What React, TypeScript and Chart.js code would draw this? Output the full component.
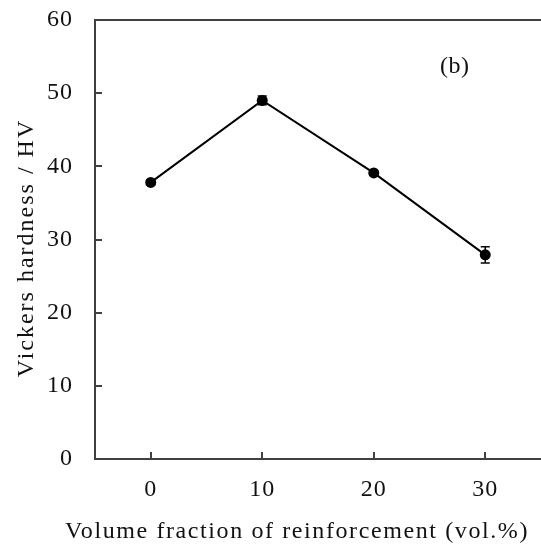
import React, { useEffect, useRef } from "react";
import { Chart, registerables } from "chart.js";

Chart.register(...registerables);

const categories = [0, 10, 20, 30];
const hardness = [37.8, 49.0, 39.1, 27.9];
const hardnessErr = [0.3, 0.6, 0.3, 1.1];
const xTickValues = [0, 10, 20, 30];
const yTickValues = [0, 10, 20, 30, 40, 50, 60];
const xTitle = "Volume fraction of reinforcement (vol.%)";
const yTitle = "Vickers hardness / HV";
const panelLabel = "(b)";

const AXIS = "#404040";
const TEXT = "#111";
const FONT = '"Liberation Serif", "Times New Roman", serif';

const zeroPad = (s: any) => {
  s.paddingTop = 0;
  s.paddingBottom = 0;
  s.paddingLeft = 0;
  s.paddingRight = 0;
};

export default function App() {
  const ref = useRef<HTMLCanvasElement | null>(null);

  useEffect(() => {
    document.body.style.margin = "0";
    const canvas = ref.current;
    if (!canvas) return;

    const decor = {
      id: "decor",
      beforeDraw(chart: any) {
        chart.ctx.letterSpacing = "1px";
      },
      afterDatasetsDraw(chart: any) {
        const ctx = chart.ctx;
        const xs = chart.scales.x;
        const ys = chart.scales.y;
        const area = chart.chartArea;
        ctx.save();
        ctx.strokeStyle = "#000";
        ctx.lineWidth = 1.5;
        categories.forEach((c, i) => {
          const px = xs.getPixelForValue(c);
          const yTop = ys.getPixelForValue(hardness[i] + hardnessErr[i]);
          const yBot = ys.getPixelForValue(hardness[i] - hardnessErr[i]);
          ctx.beginPath();
          ctx.moveTo(px, yTop);
          ctx.lineTo(px, yBot);
          ctx.moveTo(px - 4.5, yTop);
          ctx.lineTo(px + 4.5, yTop);
          ctx.moveTo(px - 4.5, yBot);
          ctx.lineTo(px + 4.5, yBot);
          ctx.stroke();
        });
        ctx.strokeStyle = AXIS;
        ctx.lineWidth = 2;
        yTickValues.forEach((v) => {
          const py = Math.round(ys.getPixelForValue(v));
          ctx.beginPath();
          ctx.moveTo(area.left, py);
          ctx.lineTo(area.left + 7, py);
          ctx.stroke();
        });
        xTickValues.forEach((v) => {
          const px = Math.round(xs.getPixelForValue(v));
          ctx.beginPath();
          ctx.moveTo(px, area.bottom);
          ctx.lineTo(px, area.bottom - 7);
          ctx.stroke();
        });
        ctx.restore();
      },
      afterDraw(chart: any) {
        const ctx = chart.ctx;
        ctx.save();
        ctx.fillStyle = TEXT;
        ctx.font = `24px ${FONT}`;
        ctx.letterSpacing = "1.6px";
        ctx.textAlign = "center";
        ctx.textBaseline = "middle";
        ctx.fillText(xTitle, 297, 532);
        ctx.save();
        ctx.translate(27, 248);
        ctx.rotate(-Math.PI / 2);
        ctx.letterSpacing = "2px";
        ctx.fillText(yTitle, 0, 0);
        ctx.restore();
        ctx.letterSpacing = "0.5px";
        ctx.textAlign = "left";
        ctx.fillText(panelLabel, 440, 67);
        ctx.restore();
        chart.ctx.letterSpacing = "0px";
      },
    };

    const chart = new Chart(canvas, {
      type: "line",
      data: {
        datasets: [
          {
            data: categories.map((c, i) => ({ x: c, y: hardness[i] })),
            borderColor: "#000",
            borderWidth: 2,
            backgroundColor: "#000",
            pointBackgroundColor: "#000",
            pointBorderWidth: 0,
            pointRadius: 5.5,
            tension: 0,
            fill: false,
          },
        ],
      },
      options: {
        animation: false,
        responsive: true,
        maintainAspectRatio: false,
        layout: { autoPadding: false, padding: { top: 20, left: 0, right: 0, bottom: 0 } },
        plugins: {
          legend: { display: false },
          tooltip: { enabled: false },
        },
        scales: {
          x: {
            type: "linear",
            position: "bottom",
            min: -5,
            max: 35,
            afterBuildTicks: (s: any) => {
              s.ticks = xTickValues.map((v) => ({ value: v }));
            },
            afterFit: (s: any) => {
              s.height = 86;
              zeroPad(s);
            },
            grid: { display: false, drawTicks: false },
            border: { display: true, color: AXIS, width: 2 },
            ticks: {
              padding: 16,
              color: TEXT,
              font: { family: FONT, size: 24 },
              maxRotation: 0,
            },
          },
          x2: {
            type: "linear",
            position: "top",
            min: -5,
            max: 35,
            afterFit: (s: any) => {
              s.height = 0;
              zeroPad(s);
            },
            grid: { display: false, drawTicks: false },
            border: { display: true, color: AXIS, width: 2 },
            ticks: { display: false },
          },
          y: {
            type: "linear",
            min: 0,
            max: 60,
            afterBuildTicks: (s: any) => {
              s.ticks = yTickValues.map((v) => ({ value: v }));
            },
            afterFit: (s: any) => {
              s.width = 95;
              zeroPad(s);
            },
            grid: { display: false, drawTicks: false },
            border: { display: true, color: AXIS, width: 2 },
            ticks: {
              padding: 22,
              color: TEXT,
              font: { family: FONT, size: 24 },
            },
          },
        },
      },
      plugins: [decor],
    });

    return () => chart.destroy();
  }, []);

  return (
    <div style={{ position: "fixed", left: 0, top: 0, width: 541, height: 545, background: "#fff" }}>
      <canvas ref={ref} />
    </div>
  );
}
